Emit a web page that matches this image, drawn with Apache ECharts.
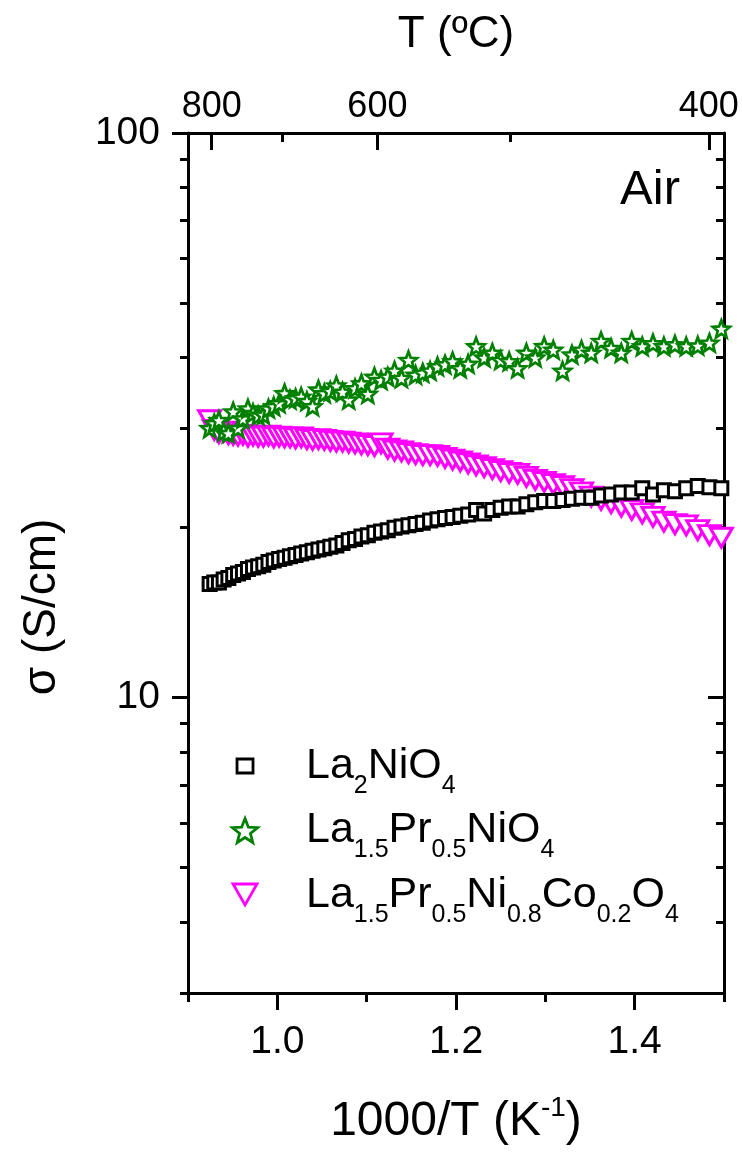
<!DOCTYPE html>
<html>
<head>
<meta charset="utf-8">
<script src="https://cdn.jsdelivr.net/npm/echarts@6/dist/echarts.min.js"></script>
<style>
  html, body { margin: 0; padding: 0; background: #fff; }
  #chart { width: 742px; height: 1160px; }
</style>
</head>
<body>
<div id="chart"></div>
<script>
// Reciprocal temperature, 1000/T (K^-1), shared by all three samples
const invT = [
  0.9242, 0.9294, 0.9346, 0.9399, 0.9452, 0.9506, 0.9560, 0.9615, 0.9671, 0.9728,
  0.9785, 0.9843, 0.9901, 0.9960, 1.0020, 1.0081, 1.0142, 1.0204, 1.0267, 1.0331,
  1.0395, 1.0460, 1.0526, 1.0593, 1.0661, 1.0730, 1.0799, 1.0870, 1.0941, 1.1013,
  1.1087, 1.1161, 1.1236, 1.1312, 1.1390, 1.1468, 1.1547, 1.1628, 1.1710, 1.1793,
  1.1877, 1.1962, 1.2048, 1.2136, 1.2225, 1.2315, 1.2407, 1.2500, 1.2595, 1.2690,
  1.2788, 1.2887, 1.2987, 1.3089, 1.3193, 1.3298, 1.3405, 1.3514, 1.3624, 1.3736,
  1.3850, 1.3967, 1.4085, 1.4205, 1.4327, 1.4451, 1.4577, 1.4706, 1.4837, 1.4970
];

// Conductivity in air, S/cm
const sigmaLa2NiO4 = [
  15.9, 16.0, 16.0, 16.2, 16.3, 16.5, 16.6, 16.7, 16.9, 17.0,
  17.1, 17.2, 17.4, 17.5, 17.6, 17.7, 17.8, 17.9, 18.0, 18.1,
  18.2, 18.3, 18.4, 18.5, 18.6, 18.8, 19.0, 19.1, 19.3, 19.4,
  19.6, 19.7, 19.8, 20.0, 20.1, 20.2, 20.3, 20.4, 20.6, 20.7,
  20.8, 20.9, 21.0, 21.1, 21.5, 21.2, 21.5, 21.7, 21.8, 21.8,
  22.0, 22.2, 22.3, 22.3, 22.4, 22.5, 22.6, 22.6, 22.8, 22.9,
  23.1, 23.1, 23.5, 22.9, 23.3, 23.2, 23.5, 23.7, 23.6, 23.5
];
const sigmaLaPrNiO4 = [
  30.0, 30.6, 31.0, 29.6, 29.4, 32.1, 30.0, 31.2, 32.5, 31.9,
  31.6, 31.7, 32.5, 32.8, 33.2, 34.6, 33.7, 33.9, 34.1, 33.5,
  32.8, 35.1, 34.6, 34.9, 35.7, 34.8, 33.7, 35.3, 36.0, 34.5,
  37.0, 36.5, 37.0, 37.9, 36.8, 39.6, 37.3, 37.6, 37.9, 38.6,
  38.9, 39.4, 38.3, 39.0, 41.9, 40.0, 40.8, 39.6, 39.4, 38.3,
  40.8, 40.0, 41.9, 41.3, 37.9, 40.5, 41.3, 40.8, 42.8, 41.6,
  40.8, 42.8, 41.9, 42.4, 41.9, 42.2, 41.9, 42.0, 42.5, 45.0
];
const sigmaLaPrNiCoO4 = [
  31.0, 29.8, 29.4, 29.6, 29.3, 29.2, 29.1, 29.2, 29.0, 29.1,
  29.0, 29.0, 29.1, 28.9, 29.0, 28.9, 28.9, 28.8, 28.9, 28.7,
  28.6, 28.7, 28.6, 28.5, 28.4, 28.4, 28.3, 28.2, 28.1, 28.0,
  27.9, 28.2, 27.6, 27.4, 27.3, 27.1, 27.0, 26.9, 26.9, 26.8,
  26.6, 26.4, 26.2, 26.0, 25.8, 25.6, 25.4, 25.2, 25.0, 24.9,
  24.6, 24.3, 24.1, 23.9, 23.7, 23.4, 23.1, 22.7, 22.4, 22.1,
  21.8, 21.5, 21.2, 20.9, 20.5, 20.3, 20.2, 19.8, 19.4, 19.2
];

const seriesNames = ['La2NiO4', 'La1.5Pr0.5NiO4', 'La1.5Pr0.5Ni0.8Co0.2O4'];

// Tick values
const xMajorTicks = [1.0, 1.2, 1.4];
const xMinorTicks = [0.9, 1.1, 1.3, 1.5];
const yMajorTicks = [10, 100];
const yMinorTicks = [3, 4, 5, 6, 7, 8, 9, 20, 30, 40, 50, 60, 70, 80, 90];
const tempMajorTicks = [800, 600, 400];   // ºC
const tempMinorTicks = [700, 500];        // ºC
const tempRange = [840, 394];             // ºC at left / right edge of top scale

const FONT = '"Liberation Sans", Arial, Helvetica, sans-serif';
const LW = 3;

// Top scale is reciprocal in ºC
const recip = t => 1000 / t;

// Hollow five-point star outline
function starPath(rOut, rIn) {
  const pts = [];
  for (let i = 0; i < 10; i++) {
    const a = -Math.PI / 2 + i * Math.PI / 5;
    const r = i % 2 ? rIn : rOut;
    pts.push((r * Math.cos(a)).toFixed(3) + ',' + (r * Math.sin(a)).toFixed(3));
  }
  return 'path://M' + pts.join(' L') + ' Z';
}
const STAR = starPath(10, 4.3);
const TRI_DOWN = 'path://M0,0 L22,0 L11,19 Z';
const TRI_ICON = 'path://M0,0 M24,24 M0,1 L24,1 L12,22 Z';
const SQUARE_ICON = 'path://M0,0 M24,24 M4,5 L20,5 L20,19 L4,19 Z';

// Chemical formula -> rich text with subscripts
function formula(name) {
  return '{n|' + name.replace(/(\d+(?:\.\d+)?)/g, '}{s|$1}{n|') + '}';
}

const chart = echarts.init(document.getElementById('chart'), null, { renderer: 'canvas' });

const pairs = arr => invT.map((x, i) => [x, arr[i]]);

const tickLabel = { fontFamily: FONT, fontSize: 39, color: '#000' };

const option = {
  animation: false,
  backgroundColor: '#fff',
  grid: { left: 188, right: 18, top: 133, bottom: 167, outerBoundsMode: 'none', containLabel: false },
  legend: {
    orient: 'vertical',
    left: 231,
    top: 744,
    padding: 0,
    itemWidth: 112,
    itemHeight: 24,
    itemGap: 10,
    selectedMode: false,
    data: [
      { name: seriesNames[0], icon: SQUARE_ICON, itemStyle: { color: '#fff', borderColor: '#000', borderWidth: 2.8 } },
      { name: seriesNames[1], icon: STAR, itemStyle: { color: '#fff', borderColor: '#008000', borderWidth: 2.8 } },
      { name: seriesNames[2], icon: TRI_ICON, itemStyle: { color: '#fff', borderColor: '#ff00ff', borderWidth: 2.8 } }
    ],
    formatter: formula,
    textStyle: {
      fontFamily: FONT,
      color: '#000',
      rich: {
        n: { fontFamily: FONT, fontSize: 43, lineHeight: 44, height: 44, color: '#000' },
        s: { fontFamily: FONT, fontSize: 25, lineHeight: 44, height: 0, color: '#000', padding: [40, 0, 0, 0] }
      }
    }
  },
  xAxis: [
    { // bottom, major ticks + labels + title
      type: 'value', position: 'bottom', min: 0.9, max: 1.5,
      axisLine: { show: true, onZero: false, lineStyle: { color: '#000', width: LW } },
      axisTick: { show: true, customValues: xMajorTicks, length: 17, lineStyle: { color: '#000', width: LW } },
      axisLabel: { show: true, customValues: xMajorTicks, margin: 30, formatter: v => v.toFixed(1), ...tickLabel },
      splitLine: { show: false },
      name: '{n|1000/T (K}{p|-1}{n|)}',
      nameLocation: 'middle',
      nameGap: 104,
      nameTextStyle: {
        rich: {
          n: { fontFamily: FONT, fontSize: 48, color: '#000', lineHeight: 50 },
          p: { fontFamily: FONT, fontSize: 28, color: '#000', lineHeight: 50, height: 0, padding: [0, 0, 28, 0] }
        }
      }
    },
    { // bottom, minor ticks
      type: 'value', position: 'bottom', min: 0.9, max: 1.5,
      axisLine: { show: false, onZero: false },
      axisTick: { show: true, customValues: xMinorTicks, length: 9, lineStyle: { color: '#000', width: LW } },
      axisLabel: { show: false },
      splitLine: { show: false }
    },
    { // top, temperature in ºC (reciprocal scale), major
      type: 'value', position: 'top', min: recip(tempRange[0]), max: recip(tempRange[1]),
      axisLine: { show: true, onZero: false, lineStyle: { color: '#000', width: LW } },
      axisTick: { show: true, inside: true, customValues: tempMajorTicks.map(recip), length: 17, lineStyle: { color: '#000', width: LW } },
      axisLabel: { show: true, customValues: tempMajorTicks.map(recip), margin: 8, formatter: v => String(Math.round(1000 / v)), ...tickLabel, fontSize: 36 },
      splitLine: { show: false },
      name: 'T (ºC)',
      nameLocation: 'middle',
      nameGap: 76,
      nameTextStyle: { fontFamily: FONT, fontSize: 44, color: '#000' }
    },
    { // top, minor
      type: 'value', position: 'top', min: recip(tempRange[0]), max: recip(tempRange[1]),
      axisLine: { show: false, onZero: false },
      axisTick: { show: true, inside: true, customValues: tempMinorTicks.map(recip), length: 9, lineStyle: { color: '#000', width: LW } },
      axisLabel: { show: false },
      splitLine: { show: false }
    }
  ],
  yAxis: [
    { // left, major
      type: 'log', logBase: 10, position: 'left', min: 3, max: 100,
      axisLine: { show: true, onZero: false, lineStyle: { color: '#000', width: LW } },
      axisTick: { show: true, customValues: yMajorTicks, length: 16, lineStyle: { color: '#000', width: LW } },
      axisLabel: { show: true, customValues: yMajorTicks, margin: 28, formatter: v => String(Math.round(v)), ...tickLabel },
      splitLine: { show: false }
    },
    { // left, minor
      type: 'log', logBase: 10, position: 'left', min: 3, max: 100,
      axisLine: { show: false, onZero: false },
      axisTick: { show: true, customValues: yMinorTicks, length: 8, lineStyle: { color: '#000', width: LW } },
      axisLabel: { show: false },
      splitLine: { show: false }
    },
    { // right, major
      type: 'log', logBase: 10, position: 'right', min: 3, max: 100,
      axisLine: { show: true, onZero: false, lineStyle: { color: '#000', width: LW } },
      axisTick: { show: true, inside: true, customValues: yMajorTicks, length: 16, lineStyle: { color: '#000', width: LW } },
      axisLabel: { show: false },
      splitLine: { show: false }
    },
    { // right, minor
      type: 'log', logBase: 10, position: 'right', min: 3, max: 100,
      axisLine: { show: false, onZero: false },
      axisTick: { show: true, inside: true, customValues: yMinorTicks, length: 8, lineStyle: { color: '#000', width: LW } },
      axisLabel: { show: false },
      splitLine: { show: false }
    }
  ],
  graphic: [
    {
      type: 'text', x: 42, y: 607, rotation: Math.PI / 2,
      style: { text: 'σ (S/cm)', font: '46px ' + FONT, fill: '#000', align: 'center', verticalAlign: 'middle' }
    },
    {
      type: 'text', x: 680, y: 190,
      style: { text: 'Air', font: '49px ' + FONT, fill: '#000', align: 'right', verticalAlign: 'middle' }
    }
  ],
  series: [
    {
      name: seriesNames[2], type: 'scatter', data: pairs(sigmaLaPrNiCoO4),
      xAxisIndex: 0, yAxisIndex: 0,
      symbol: TRI_DOWN, symbolSize: [22, 19],
      itemStyle: { color: '#fff', borderColor: '#ff00ff', borderWidth: 3, opacity: 1 },
      emphasis: { disabled: true }, z: 2
    },
    {
      name: seriesNames[0], type: 'scatter', data: pairs(sigmaLa2NiO4),
      xAxisIndex: 0, yAxisIndex: 0,
      symbol: 'rect', symbolSize: 13,
      itemStyle: { color: '#fff', borderColor: '#000', borderWidth: 3, opacity: 1 },
      emphasis: { disabled: true }, z: 3
    },
    {
      name: seriesNames[1], type: 'scatter', data: pairs(sigmaLaPrNiO4),
      xAxisIndex: 0, yAxisIndex: 0,
      symbol: STAR, symbolSize: 17,
      itemStyle: { color: '#fff', borderColor: '#008000', borderWidth: 2.7, opacity: 1 },
      emphasis: { disabled: true }, z: 4
    }
  ]
};

chart.setOption(option);
</script>
</body>
</html>
